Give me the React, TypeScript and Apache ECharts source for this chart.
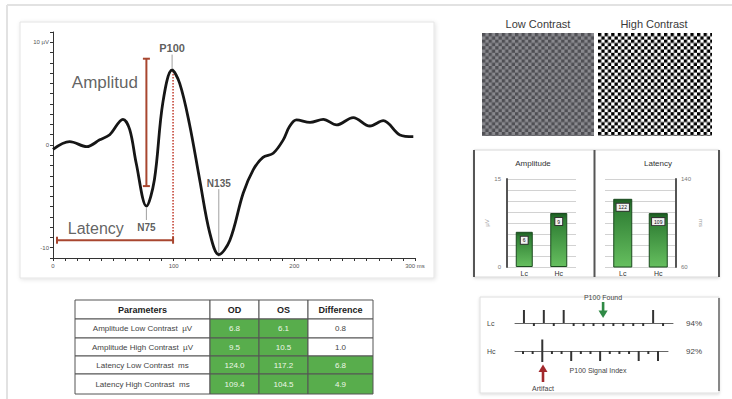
import React, { useEffect, useRef } from 'react';
import * as echarts from 'echarts';

// ---------- Data ----------
const waveTimes = [0, 13.8, 28, 38.7, 47, 58, 63.6, 69, 77.4, 84, 91, 98.7, 105, 113, 121.6, 130, 137.4, 146.5, 157.6, 166, 174, 182.5, 190.8, 196, 201.8, 213, 224, 235, 248.8, 262.6, 273.7, 287.5, 298.6];
const waveValues = [-0.42, 0.33, -0.16, 0.5, 1.0, 2.5, 1.5, -1.8, -5.95, -3.4, 4.1, 7.3, 6.0, 2.1, -3.4, -8.6, -10.67, -9.3, -4.7, -2.4, -1.2, -0.8, 0.5, 1.8, 2.44, 2.2, 2.5, 1.95, 2.67, 1.85, 2.37, 0.98, 0.81];

const peakNames = ['N75', 'P100', 'N135'];
const peakTimes = [77.4, 98.7, 137.4];
const peakValues = [-5.95, 7.3, -10.67];
const peakLabelValues = [-8.0, 9.4, -3.7];
const peakConnectorEnds = [-7.3, 8.8, -4.3];

const amplitudeBar = [[77.4, 8.4], [77.4, -4.0]];
const latencyBar = [[3.3, -9.27], [99.5, -9.27]];
const latencyDrop = [[99.5, 7.2], [99.5, -9.27]];
const bigLabels = ['Amplitud', 'Latency'];
const bigLabelPos = [[43, 6.05], [35.5, -8.1]];

const barCategories = ['Lc', 'Hc'];
const amplitudeValues = [6.0, 9.2];
const latencyValues = [122, 109];

const contrastLabels = ['Low Contrast', 'High Contrast'];

const tableHeaders = ['Parameters', 'OD', 'OS', 'Difference'];
const tableParams = ['Amplitude Low Contrast  µV', 'Amplitude High Contrast  µV', 'Latency Low Contrast  ms', 'Latency High Contrast  ms'];
const odValues = [6.8, 9.5, 124.0, 109.4];
const osValues = [6.1, 10.5, 117.2, 104.5];
const diffValues = [0.8, 1.0, 6.8, 4.9];
const diffHighlighted = [false, false, true, true];

const signalRows = ['Lc', 'Hc'];
const signalPercent = [94, 92];
const lcSignal = [13, -3, 13, -3, 13, -3, -3, -3, -3, -3, -3, -3, -3, 13, -3];
const hcSignal = [-3, -3, -11, -3, -3, -10, -3, -3, -10, -3, -3, -3, -10, -3, -10];
const hcArtifactUp = [0, 0, 11.5, 0, 0, 0, 0, 0, 0, 0, 0, 0, 0, 0, 0];

// ---------- Styles ----------
const FONT = '"Liberation Sans", Arial, Helvetica, sans-serif';
const GREEN = '#58ad4c';
const RED = '#a8462f';

function checkerUrl(w: number, h: number, s: number, c1: string, c2: string) {
  const svg = `<svg xmlns='http://www.w3.org/2000/svg' width='${w}' height='${h}'><defs><pattern id='p' width='${2 * s}' height='${2 * s}' patternUnits='userSpaceOnUse'><rect width='${2 * s}' height='${2 * s}' fill='${c2}'/><rect width='${s}' height='${s}' fill='${c1}'/><rect x='${s}' y='${s}' width='${s}' height='${s}' fill='${c1}'/></pattern></defs><rect width='${w}' height='${h}' fill='url(#p)'/></svg>`;
  return 'data:image/svg+xml;charset=utf-8,' + encodeURIComponent(svg);
}

function buildOption() {
  const graphics: any[] = [];
  // outer frame
  graphics.push({ type: 'line', z: -10, shape: { x1: 7, y1: 5, x2: 732, y2: 5 }, style: { stroke: '#e2e2e2', lineWidth: 2 } });
  graphics.push({ type: 'line', z: -10, shape: { x1: 7, y1: 5, x2: 7, y2: 399 }, style: { stroke: '#e2e2e2', lineWidth: 2 } });
  // waveform panel
  graphics.push({
    type: 'rect', z: -10, shape: { x: 20, y: 22, width: 414, height: 256 },
    style: { fill: '#fff', stroke: '#e4e4e4', lineWidth: 1, shadowBlur: 4, shadowColor: 'rgba(0,0,0,0.12)', shadowOffsetX: 1, shadowOffsetY: 1 },
  });
  // checkerboards
  const checkX = [482, 598];
  contrastLabels.forEach((t, i) => {
    graphics.push({ type: 'text', x: checkX[i] + 56, y: 24, style: { text: t, font: `11px ${FONT}`, fill: '#3a3a3a', align: 'center', verticalAlign: 'middle' } });
  });
  graphics.push({ type: 'image', x: 482, y: 33, style: { image: checkerUrl(112, 103, 3.3, '#4f4f54', '#8a8a8f'), width: 112, height: 103 } });
  graphics.push({ type: 'image', x: 598, y: 33, style: { image: checkerUrl(114, 103, 3.3, '#000000', '#ffffff'), width: 114, height: 103 } });

  // bar panel
  graphics.push({
    type: 'rect', z: -10, shape: { x: 474, y: 150, width: 245, height: 127 },
    style: { fill: '#fff', stroke: '#d8d8d8', lineWidth: 1, shadowBlur: 3, shadowColor: 'rgba(0,0,0,0.15)', shadowOffsetY: 1 },
  });
  [474, 594.5, 719].forEach((x) => {
    graphics.push({ type: 'line', shape: { x1: x, y1: 150, x2: x, y2: 277 }, style: { stroke: '#555', lineWidth: 2 } });
  });
  graphics.push({ type: 'text', x: 533, y: 163, style: { text: 'Amplitude', font: `8px ${FONT}`, fill: '#333', align: 'center', verticalAlign: 'middle' } });
  graphics.push({ type: 'text', x: 658, y: 163, style: { text: 'Latency', font: `8px ${FONT}`, fill: '#333', align: 'center', verticalAlign: 'middle' } });

  // table
  const colX = [75, 210, 259, 308, 373];
  const rowY = [300, 319, 338, 356, 374, 394];
  tableHeaders.forEach((h, c) => {
    graphics.push({
      type: 'rect', shape: { x: colX[c], y: rowY[0], width: colX[c + 1] - colX[c], height: rowY[1] - rowY[0] },
      style: { fill: '#fff', stroke: '#555', lineWidth: 1 },
    });
    graphics.push({
      type: 'text', x: (colX[c] + colX[c + 1]) / 2, y: (rowY[0] + rowY[1]) / 2,
      style: { text: h, font: `bold 9px ${FONT}`, fill: '#222', align: 'center', verticalAlign: 'middle' },
    });
  });
  tableParams.forEach((p, r) => {
    const cells = [
      { text: p, green: false },
      { text: odValues[r].toFixed(1), green: true },
      { text: osValues[r].toFixed(1), green: true },
      { text: diffValues[r].toFixed(1), green: diffHighlighted[r] },
    ];
    cells.forEach((cell, c) => {
      graphics.push({
        type: 'rect', shape: { x: colX[c], y: rowY[r + 1], width: colX[c + 1] - colX[c], height: rowY[r + 2] - rowY[r + 1] },
        style: { fill: cell.green ? GREEN : '#fff', stroke: '#555', lineWidth: 1 },
      });
      graphics.push({
        type: 'text', x: (colX[c] + colX[c + 1]) / 2, y: (rowY[r + 1] + rowY[r + 2]) / 2,
        style: { text: cell.text, font: `8px ${FONT}`, fill: cell.green ? '#eef7e8' : '#444', align: 'center', verticalAlign: 'middle' },
      });
    });
  });

  // signal panel
  graphics.push({
    type: 'rect', z: -10, shape: { x: 480, y: 297, width: 239, height: 96 },
    style: { fill: '#fff', stroke: '#dedede', lineWidth: 1, shadowBlur: 3, shadowColor: 'rgba(0,0,0,0.15)', shadowOffsetY: 1 },
  });
  graphics.push({ type: 'line', shape: { x1: 719, y1: 298, x2: 719, y2: 391 }, style: { stroke: '#666', lineWidth: 1.5 } });
  const rowYs = [323, 351];
  signalRows.forEach((s, i) => {
    graphics.push({ type: 'text', x: 487, y: rowYs[i], style: { text: s, font: `7px ${FONT}`, fill: '#444', verticalAlign: 'middle' } });
    graphics.push({ type: 'text', x: 694, y: rowYs[i], style: { text: signalPercent[i] + '%', font: `8px ${FONT}`, fill: '#444', align: 'center', verticalAlign: 'middle' } });
  });
  graphics.push({ type: 'text', x: 603, y: 297, style: { text: 'P100 Found', font: `7px ${FONT}`, fill: '#444', align: 'center', verticalAlign: 'middle' } });
  graphics.push({ type: 'text', x: 598, y: 370, style: { text: 'P100 Signal Index', font: `7px ${FONT}`, fill: '#444', align: 'center', verticalAlign: 'middle' } });
  graphics.push({ type: 'text', x: 543, y: 388, style: { text: 'Artifact', font: `7px ${FONT}`, fill: '#444', align: 'center', verticalAlign: 'middle' } });
  // green arrow (down)
  graphics.push({ type: 'rect', shape: { x: 601.8, y: 302, width: 2.6, height: 10 }, style: { fill: '#2f8a45' } });
  graphics.push({ type: 'polygon', shape: { points: [[598.5, 310.5], [607.7, 310.5], [603.1, 318]] }, style: { fill: '#2f8a45' } });
  // red arrow (up)
  graphics.push({ type: 'polygon', shape: { points: [[538.5, 372], [547.5, 372], [543, 364.5]] }, style: { fill: '#a2282c' } });
  graphics.push({ type: 'rect', shape: { x: 541.7, y: 371, width: 2.6, height: 11 }, style: { fill: '#a2282c' } });

  const labelData = peakNames.map((n, i) => ({
    value: [peakTimes[i], peakLabelValues[i]],
    name: n,
    label: { fontSize: n === 'P100' ? 11 : 10 },
  }));
  const bigLabelData = bigLabels.map((n, i) => ({
    value: bigLabelPos[i],
    name: n,
    label: { fontSize: i === 0 ? 17 : 16, fontWeight: 'normal', color: '#3a3a3a' },
  }));

  const connectorSeries = peakNames.map((n, i) => ({
    type: 'line', xAxisIndex: 0, yAxisIndex: 0, showSymbol: false, symbol: 'none', silent: true,
    data: [[peakTimes[i], peakValues[i] + (peakValues[i] > 0 ? 0.2 : -0.2)], [peakTimes[i], peakConnectorEnds[i]]],
    lineStyle: { color: '#888', width: 0.8 },
    z: 1,
  }));

  const barGradient = {
    type: 'linear', x: 0, y: 0, x2: 0, y2: 1,
    colorStops: [
      { offset: 0, color: '#1b5a21' },
      { offset: 0.12, color: '#2e7d33' },
      { offset: 1, color: '#66bf5f' },
    ],
  };
  const barLabel = (fs: number) => ({
    show: true, position: 'insideTop', distance: 5,
    formatter: (p: any) => String(Math.round(p.value)),
    fontSize: fs, color: '#111', fontFamily: FONT,
    backgroundColor: '#f2f2f2', borderColor: '#333', borderWidth: 1, padding: [1, 2],
  });

  return {
    animation: false,
    backgroundColor: '#ffffff',
    textStyle: { fontFamily: FONT },
    graphic: { elements: graphics },
    grid: [
      { left: 53, top: 32, width: 362, height: 226, outerBoundsMode: 'none' },
      { left: 507, top: 179, width: 69, height: 88, outerBoundsMode: 'none' },
      { left: 605, top: 179, width: 71, height: 88, outerBoundsMode: 'none' },
      { left: 515, top: 308, width: 158, height: 30, outerBoundsMode: 'none' },
      { left: 515, top: 336, width: 153, height: 30, outerBoundsMode: 'none' },
    ],
    xAxis: [
      {
        type: 'value', gridIndex: 0, min: 0, max: 300, interval: 10,
        axisLine: { show: true, onZero: false, lineStyle: { color: '#333', width: 1 } },
        axisTick: { show: true, length: 3, lineStyle: { color: '#333' } },
        splitLine: { show: false },
        axisLabel: {
          fontSize: 6, color: '#555', margin: 5,
          formatter: (v: number) => (v % 100 === 0 ? (v === 300 ? '300 ms' : String(v)) : ''),
        },
      },
      {
        type: 'category', gridIndex: 1, data: barCategories,
        axisLine: { show: false }, axisTick: { show: false },
        axisLabel: { fontSize: 7, color: '#333', margin: 3 },
      },
      {
        type: 'category', gridIndex: 2, data: barCategories,
        axisLine: { show: false }, axisTick: { show: false },
        axisLabel: { fontSize: 7, color: '#333', margin: 3 },
      },
      {
        type: 'value', gridIndex: 3, min: -0.9, max: 15.0,
        axisLine: { show: true, onZero: true, lineStyle: { color: '#666', width: 1 } },
        axisTick: { show: false }, axisLabel: { show: false }, splitLine: { show: false },
      },
      {
        type: 'value', gridIndex: 4, min: -0.83, max: 15.04,
        axisLine: { show: true, onZero: true, lineStyle: { color: '#666', width: 1 } },
        axisTick: { show: false }, axisLabel: { show: false }, splitLine: { show: false },
      },
    ],
    yAxis: [
      {
        type: 'value', gridIndex: 0, min: -11, max: 11, interval: 1,
        axisLine: { show: true, lineStyle: { color: '#333', width: 1 } },
        axisTick: { show: true, length: 3, lineStyle: { color: '#333' } },
        splitLine: { show: false },
        axisLabel: {
          fontSize: 6, color: '#555', margin: 4,
          formatter: (v: number) => (v === 10 ? '10 µV' : v === 0 ? '0' : v === -10 ? '-10' : ''),
        },
      },
      {
        type: 'value', gridIndex: 1, min: 0, max: 15, interval: 1.875,
        axisLine: { show: true, lineStyle: { color: '#555', width: 2 } },
        axisTick: { show: false },
        splitLine: { show: true, lineStyle: { color: '#d2d2d2', width: 1 } },
        axisLabel: { fontSize: 6, color: '#777', margin: 6, formatter: (v: number) => (v === 0 || v === 15 ? String(v) : '') },
        name: 'µV', nameLocation: 'middle', nameGap: 15, nameRotate: 90,
        nameTextStyle: { fontSize: 6, color: '#999' },
      },
      {
        type: 'value', gridIndex: 2, position: 'right', min: 60, max: 140, interval: 10,
        axisLine: { show: true, lineStyle: { color: '#555', width: 2 } },
        axisTick: { show: false },
        splitLine: { show: true, lineStyle: { color: '#d2d2d2', width: 1 } },
        axisLabel: { fontSize: 6, color: '#777', margin: 5, formatter: (v: number) => (v === 60 || v === 140 ? String(v) : '') },
        name: 'ms', nameLocation: 'middle', nameGap: 22, nameRotate: -90,
        nameTextStyle: { fontSize: 6, color: '#999' },
      },
      { type: 'value', gridIndex: 3, min: -15, max: 15, show: false },
      { type: 'value', gridIndex: 4, min: -15, max: 15, show: false },
    ],
    series: [
      {
        type: 'line', xAxisIndex: 0, yAxisIndex: 0, name: 'VEP',
        data: waveTimes.map((t, i) => [t, waveValues[i]]),
        showSymbol: false, symbol: 'none', smooth: 0.35,
        lineStyle: { color: '#161616', width: 2.8 },
        z: 3,
      },
      ...connectorSeries,
      {
        type: 'line', xAxisIndex: 0, yAxisIndex: 0, data: latencyDrop,
        showSymbol: false, symbol: 'none',
        lineStyle: { color: '#c0392b', width: 1.5, type: 'dotted' }, z: 2,
      },
      {
        type: 'line', xAxisIndex: 0, yAxisIndex: 0, data: amplitudeBar,
        symbol: 'rect', symbolSize: [7, 2], showSymbol: true,
        itemStyle: { color: RED }, lineStyle: { color: RED, width: 2 }, z: 2,
      },
      {
        type: 'line', xAxisIndex: 0, yAxisIndex: 0, data: latencyBar,
        symbol: 'rect', symbolSize: [2, 7], showSymbol: true,
        itemStyle: { color: RED }, lineStyle: { color: RED, width: 2 }, z: 2,
      },
      {
        type: 'scatter', xAxisIndex: 0, yAxisIndex: 0, data: labelData,
        symbolSize: 1, itemStyle: { color: 'rgba(0,0,0,0)' }, silent: true,
        label: { show: true, position: 'inside', formatter: '{b}', fontWeight: 'bold', color: '#333', fontFamily: FONT },
        z: 4,
      },
      {
        type: 'scatter', xAxisIndex: 0, yAxisIndex: 0, data: bigLabelData,
        symbolSize: 1, itemStyle: { color: 'rgba(0,0,0,0)' }, silent: true,
        label: { show: true, position: 'inside', formatter: '{b}', fontFamily: FONT },
        z: 4,
      },
      {
        type: 'bar', xAxisIndex: 1, yAxisIndex: 1, data: amplitudeValues, barWidth: 17,
        itemStyle: { color: barGradient, borderColor: '#1a4a1e', borderWidth: 1 },
        label: barLabel(5),
      },
      {
        type: 'bar', xAxisIndex: 2, yAxisIndex: 2, data: latencyValues, barWidth: 19,
        itemStyle: { color: barGradient, borderColor: '#1a4a1e', borderWidth: 1 },
        label: barLabel(5),
      },
      {
        type: 'bar', xAxisIndex: 3, yAxisIndex: 3, data: lcSignal.map((v, i) => [i, v]),
        barWidth: 2, itemStyle: { color: '#333' }, z: 5,
      },
      {
        type: 'bar', xAxisIndex: 4, yAxisIndex: 4, data: hcSignal.map((v, i) => [i, v]),
        barWidth: 2, barGap: '-100%', itemStyle: { color: '#333' }, z: 5,
      },
      {
        type: 'bar', xAxisIndex: 4, yAxisIndex: 4, data: hcArtifactUp.map((v, i) => [i, v]),
        barWidth: 2, barGap: '-100%', itemStyle: { color: '#333' }, z: 5,
      },
    ],
  };
}

export default function App() {
  const ref = useRef<HTMLDivElement>(null);
  useEffect(() => {
    if (!ref.current) return;
    const chart = echarts.init(ref.current, undefined, { renderer: 'svg' });
    chart.setOption(buildOption() as any);
    return () => chart.dispose();
  }, []);
  return (
    <div
      ref={ref}
      style={{ position: 'fixed', left: 0, top: 0, width: 732, height: 399, background: '#fff' }}
    />
  );
}
